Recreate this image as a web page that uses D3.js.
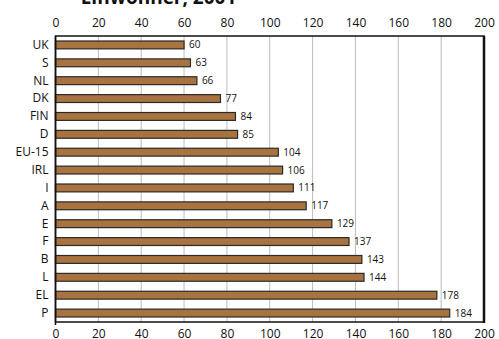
<!DOCTYPE html>
<html><head><meta charset="utf-8">
<script src="https://cdn.jsdelivr.net/npm/d3@7"></script>
<style>body{margin:0;background:#fff}svg{display:block}text{font-family:"Open Sans","Noto Sans",sans-serif}</style>
</head><body>
<svg id="c" width="499" height="339"></svg>
<script>
const categories = ["UK","S","NL","DK","FIN","D","EU-15","IRL","I","A","E","F","B","L","EL","P"];
const values = [60,63,66,77,84,85,104,106,111,117,129,137,143,144,178,184];
const ticks = [0,20,40,60,80,100,120,140,160,180,200];
const title = "Einwohner, 2001";

(function(){
const svg = d3.select("#c");
const m = {l:55.5, r:484, t:36, b:322};
const x = d3.scaleLinear().domain([0,200]).range([m.l, m.r]);
const y = d3.scaleBand().domain(categories).range([m.t, m.b]).paddingInner(0.56).paddingOuter(0.28);

svg.append("text").attr("x",158.5).attr("y",4).attr("text-anchor","middle")
  .attr("font-size",19).attr("font-weight","bold").attr("fill","#111").text(title);

svg.append("g").selectAll("line").data(ticks.slice(1,-1)).join("line")
  .attr("x1",d=>x(d)).attr("x2",d=>x(d)).attr("y1",m.t).attr("y2",m.b)
  .attr("stroke","#bdbdbd").attr("stroke-width",1);

svg.append("g").selectAll("rect").data(values).join("rect")
  .attr("x",x(0)).attr("y",(d,i)=>y(categories[i]))
  .attr("width",d=>x(d)-x(0)).attr("height",y.bandwidth())
  .attr("fill","#a8733f").attr("stroke","#2a2a2a").attr("stroke-width",1.2);

svg.append("g").selectAll("text").data(values).join("text")
  .attr("x",d=>x(d)+5).attr("y",(d,i)=>y(categories[i])+y.bandwidth()/2)
  .attr("dy","0.35em").attr("font-size",10).attr("fill","#111").text(d=>d);

svg.append("rect").attr("x",m.l).attr("y",m.t).attr("width",m.r-m.l).attr("height",m.b-m.t)
  .attr("fill","none").attr("stroke","#111").attr("stroke-width",1.5);
svg.append("line").attr("x1",m.r).attr("x2",m.r).attr("y1",m.t).attr("y2",m.b+1)
  .attr("stroke","#111").attr("stroke-width",2.5);
svg.append("line").attr("x1",m.l).attr("x2",m.l).attr("y1",m.t).attr("y2",m.b+3)
  .attr("stroke","#111").attr("stroke-width",1.5);

const gTop = svg.append("g").attr("transform",`translate(0,${m.t})`)
  .call(d3.axisTop(x).tickValues(ticks).tickSize(0).tickPadding(9));
const gBot = svg.append("g").attr("transform",`translate(0,${m.b})`)
  .call(d3.axisBottom(x).tickValues(ticks).tickSize(0).tickPadding(7));
const gLeft = svg.append("g").attr("transform",`translate(${m.l},0)`)
  .call(d3.axisLeft(y).tickSize(0).tickPadding(7));
[gTop,gBot,gLeft].forEach(g=>{
  g.select(".domain").remove();
  g.selectAll("text").attr("font-size",12).attr("fill","#111").attr("font-family",'"Open Sans","Noto Sans",sans-serif');
});
})();
</script>
</body></html>
